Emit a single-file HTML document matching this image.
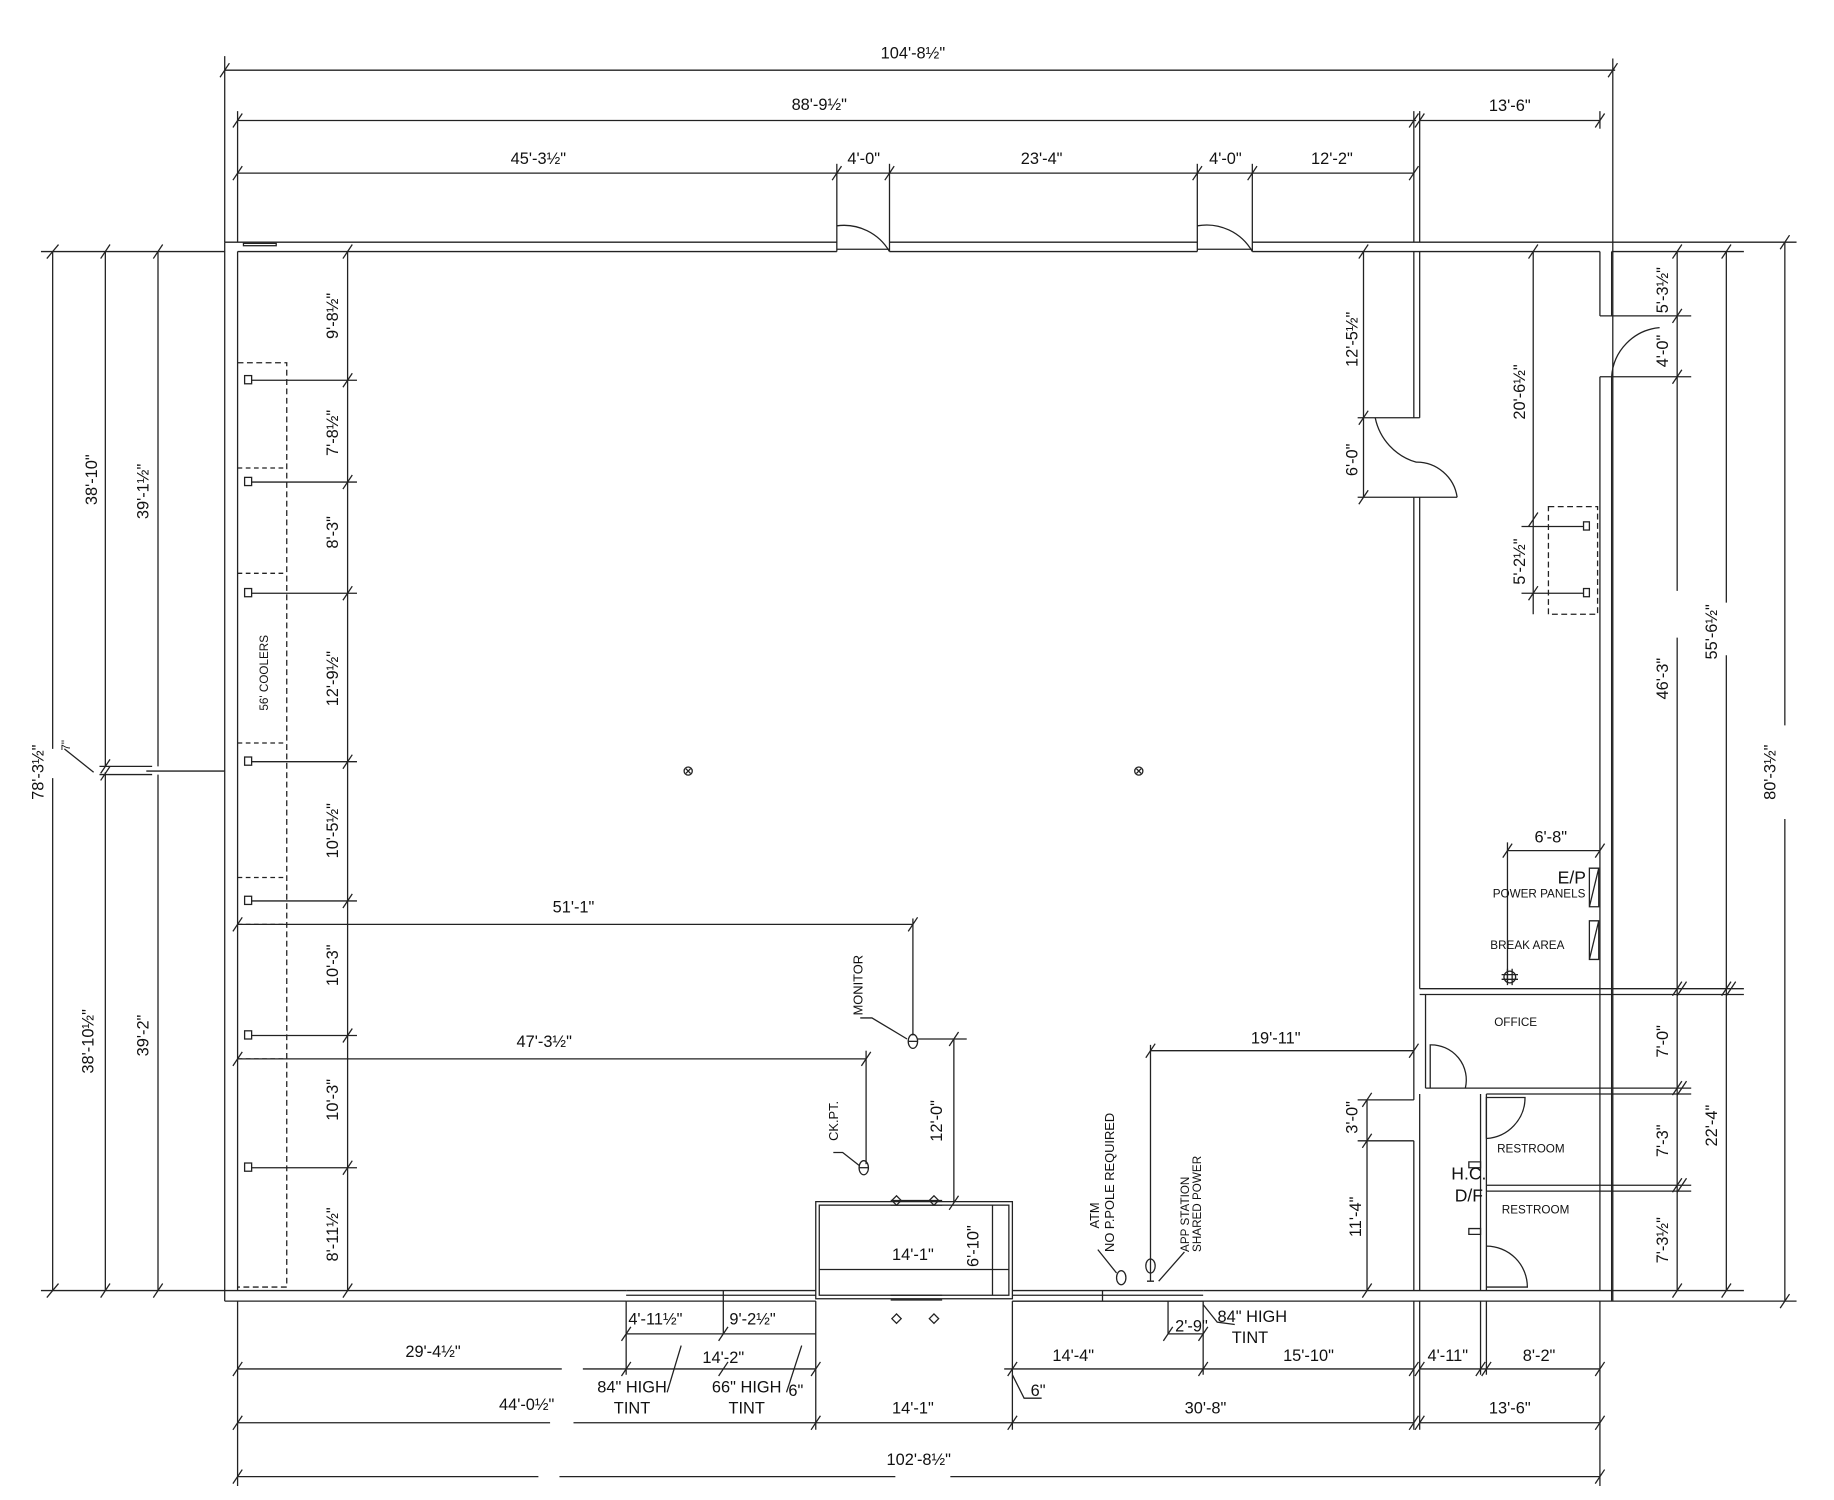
<!DOCTYPE html>
<html><head><meta charset="utf-8"><style>
html,body{margin:0;padding:0;background:#fff;width:1834px;height:1500px;overflow:hidden}
svg{display:block}
text{font-family:"Liberation Sans",sans-serif;fill:#111}
</style></head><body>
<svg width="1834" height="1500" viewBox="0 0 1567 1282" preserveAspectRatio="none" xmlns="http://www.w3.org/2000/svg">
<g stroke="#222" stroke-width="1.1" fill="none">
<line x1="192" y1="60" x2="1380" y2="60"/><line x1="192" y1="48" x2="192" y2="207"/><line x1="1378" y1="50" x2="1378" y2="1112"/>
<line x1="203" y1="103" x2="1210" y2="103"/><line x1="1213" y1="103" x2="1367" y2="103"/>
<line x1="203" y1="95" x2="203" y2="207"/><line x1="1367" y1="95" x2="1367" y2="110"/>
<line x1="1208" y1="95" x2="1208" y2="207"/><line x1="1213" y1="95" x2="1213" y2="207"/>
<line x1="203" y1="148" x2="1208" y2="148"/>
<line x1="715" y1="140" x2="715" y2="215"/><line x1="760" y1="140" x2="760" y2="215"/>
<line x1="1023" y1="140" x2="1023" y2="215"/><line x1="1070" y1="140" x2="1070" y2="215"/>
<path d="M188 66L196 54M1374 66L1382 54M199 109L207 97M1204 109L1212 97M1209 109L1217 97M1363 109L1371 97M199 154L207 142M711 154L719 142M756 154L764 142M1019 154L1027 142M1066 154L1074 142M1204 154L1212 142"/>
<line x1="192" y1="207" x2="715" y2="207"/><line x1="760" y1="207" x2="1023" y2="207"/><line x1="1070" y1="207" x2="1535" y2="207"/>
<line x1="203" y1="215" x2="715" y2="215"/><line x1="760" y1="215" x2="1023" y2="215"/><line x1="1070" y1="215" x2="1367" y2="215"/>
<line x1="35" y1="215" x2="192" y2="215"/><line x1="1377" y1="215" x2="1490" y2="215"/>
<line x1="192" y1="207" x2="192" y2="1112"/><line x1="203" y1="215" x2="203" y2="1103"/>
<line x1="192" y1="1112" x2="535" y2="1112"/><line x1="865" y1="1112" x2="1535" y2="1112"/>
<line x1="35" y1="1103" x2="535" y2="1103"/><line x1="1028" y1="1103" x2="1490" y2="1103"/>
<rect x="208" y="208" width="28" height="2"/>
<line x1="715" y1="213" x2="760" y2="213"/><line x1="1023" y1="213" x2="1070" y2="213"/>
<path d="M715 193A45 45 0 0 1 760 215M1023 193A45 45 0 0 1 1070 215"/>
<line x1="1208" y1="215" x2="1208" y2="357"/><line x1="1213" y1="215" x2="1213" y2="357"/>
<line x1="1208" y1="425" x2="1208" y2="940"/><line x1="1213" y1="425" x2="1213" y2="845"/>
<line x1="1208" y1="975" x2="1208" y2="1103"/><line x1="1213" y1="935" x2="1213" y2="1103"/>
<line x1="1160" y1="357" x2="1213" y2="357"/><line x1="1160" y1="425" x2="1245" y2="425"/>
<path d="M1175 357A50 50 0 0 0 1210 395A35 35 0 0 1 1245 425"/>
<line x1="1165" y1="215" x2="1165" y2="425"/>
<path d="M1161 221L1169 209M1161 363L1169 351M1161 431L1169 419"/>
<line x1="1367" y1="215" x2="1367" y2="270"/><line x1="1377" y1="215" x2="1377" y2="270"/>
<line x1="1367" y1="322" x2="1367" y2="1103"/><line x1="1377" y1="322" x2="1377" y2="1112"/>
<line x1="1367" y1="270" x2="1445" y2="270"/><line x1="1367" y1="322" x2="1445" y2="322"/>
<path d="M1377 322A45 45 0 0 1 1418 280"/>
<line x1="1433" y1="215" x2="1433" y2="505"/><line x1="1433" y1="545" x2="1433" y2="1103"/>
<line x1="1475" y1="215" x2="1475" y2="515"/><line x1="1475" y1="560" x2="1475" y2="1103"/>
<line x1="1525" y1="207" x2="1525" y2="620"/><line x1="1525" y1="700" x2="1525" y2="1112"/>
<line x1="1310" y1="215" x2="1310" y2="525"/>
<path d="M1429 221L1437 209M1429 276L1437 264M1429 328L1437 316M1471 221L1479 209M1521 213L1529 201M1306 221L1314 209M1306 450L1314 438M1306 513L1314 501M1521 1118L1529 1106M1471 1109L1479 1097M1429 1109L1437 1097"/>
<path d="M1429 851L1437 839M1433 851L1441 839M1471 851L1479 839M1475 851L1483 839M1429 936L1437 924M1433 936L1441 924M1429 1019L1437 1007M1433 1019L1441 1007"/>
<line x1="1367" y1="845" x2="1490" y2="845"/><line x1="1367" y1="850" x2="1490" y2="850"/>
<line x1="1367" y1="930" x2="1445" y2="930"/><line x1="1367" y1="935" x2="1445" y2="935"/>
<line x1="1367" y1="1013" x2="1445" y2="1013"/><line x1="1367" y1="1018" x2="1445" y2="1018"/>
<rect x="1323" y="433" width="42" height="92" stroke-dasharray="5,3"/>
<rect x="1353" y="446" width="5" height="7"/><rect x="1353" y="503" width="5" height="7"/>
<line x1="1300" y1="450" x2="1353" y2="450"/><line x1="1300" y1="507" x2="1353" y2="507"/>
<line x1="1288" y1="727" x2="1367" y2="727"/><line x1="1288" y1="720" x2="1288" y2="840"/>
<path d="M1284 733L1292 721M1363 733L1371 721"/>
<path d="M1358 742H1366V775H1358ZM1358 775L1366 742M1358 787H1366V820H1358ZM1358 820L1366 787"/>
<circle cx="1290" cy="835" r="5"/><path d="M1283 833H1297M1283 837H1297M1288 828V842M1292 828V842"/>
<line x1="1213" y1="845" x2="1367" y2="845"/><line x1="1213" y1="850" x2="1367" y2="850"/>
<line x1="1218" y1="930" x2="1367" y2="930"/><line x1="1270" y1="935" x2="1367" y2="935"/>
<line x1="1218" y1="850" x2="1218" y2="930"/>
<path d="M1222 930V893A30 30 0 0 1 1252 930"/>
<line x1="1265" y1="935" x2="1265" y2="1103"/><line x1="1270" y1="935" x2="1270" y2="1103"/>
<line x1="1270" y1="1013" x2="1367" y2="1013"/><line x1="1270" y1="1018" x2="1367" y2="1018"/>
<path d="M1270 973V938H1303A35 35 0 0 1 1270 973M1270 1065A35 35 0 0 1 1305 1100H1270"/>
<path d="M1255 993H1265V998H1255ZM1255 1050H1265V1055H1255Z"/>
<line x1="1160" y1="940" x2="1208" y2="940"/><line x1="1160" y1="975" x2="1208" y2="975"/>
<line x1="1168" y1="940" x2="1168" y2="1103"/>
<path d="M1164 946L1172 934M1164 981L1172 969M1164 1109L1172 1097M1204 904L1212 892"/>
<path d="M203 310H245V1100H203" stroke-dasharray="5,3"/>
<path d="M203 400H245M203 490H245M203 635H245M203 750H245M203 790H245M203 905H245" stroke-dasharray="4,3"/>
<g>
<rect x="209" y="321" width="6" height="7"/><rect x="209" y="408" width="6" height="7"/><rect x="209" y="503" width="6" height="7"/><rect x="209" y="647" width="6" height="7"/><rect x="209" y="766" width="6" height="7"/><rect x="209" y="881" width="6" height="7"/><rect x="209" y="994" width="6" height="7"/>
</g>
<path d="M215 325H305M215 412H305M215 507H305M215 651H305M215 770H305M215 885H305M215 998H305"/>
<line x1="297" y1="215" x2="297" y2="1103"/>
<path d="M293 221L301 209M293 331L301 319M293 418L301 406M293 513L301 501M293 657L301 645M293 776L301 764M293 891L301 879M293 1004L301 992M293 1109L301 1097"/>
<line x1="45" y1="215" x2="45" y2="640"/><line x1="45" y1="665" x2="45" y2="1103"/>
<line x1="90" y1="215" x2="90" y2="655"/><line x1="90" y1="660" x2="90" y2="1103"/>
<line x1="135" y1="215" x2="135" y2="655"/><line x1="135" y1="662" x2="135" y2="1103"/>
<line x1="125" y1="659" x2="192" y2="659"/><line x1="85" y1="655" x2="130" y2="655"/><line x1="85" y1="662" x2="130" y2="662"/>
<path d="M40 221L50 209M86 221L94 209M131 221L139 209M40 1109L50 1097M86 1109L94 1097M131 1109L139 1097M86 661L94 649M86 667L94 655M55 640L80 660"/>
<circle cx="588" cy="659" r="3.5"/><path d="M586 657L590 661M590 657L586 661"/>
<circle cx="973" cy="659" r="3.5"/><path d="M971 657L975 661M975 657L971 661"/>
<line x1="203" y1="790" x2="780" y2="790"/><line x1="780" y1="785" x2="780" y2="885"/>
<line x1="203" y1="905" x2="740" y2="905"/><line x1="740" y1="898" x2="740" y2="995"/>
<path d="M199 796L207 784M776 796L784 784M199 911L207 899M736 911L744 899"/>
<ellipse cx="780" cy="890" rx="4" ry="6"/><line x1="776" y1="890" x2="784" y2="890"/>
<ellipse cx="738" cy="998" rx="4" ry="6"/><line x1="734" y1="998" x2="742" y2="998"/>
<path d="M735 870L745 870L775 888M712 985L720 985L734 996"/>
<line x1="784" y1="888" x2="826" y2="888"/><line x1="815" y1="888" x2="815" y2="1028"/>
<path d="M811 894L819 882M811 1034L819 1022"/>
<rect x="697" y="1027" width="168" height="83"/><rect x="700" y="1030" width="162" height="77"/>
<line x1="700" y1="1085" x2="862" y2="1085"/>
<line x1="848" y1="1030" x2="848" y2="1107"/>
<path d="M761 1026H805M761 1030H805M761 1107H805M761 1111H805"/>
<path d="M762 1026L766 1022L770 1026L766 1030ZM794 1026L798 1022L802 1026L798 1030ZM762 1127L766 1123L770 1127L766 1131ZM794 1127L798 1123L802 1127L798 1131Z"/>
<path d="M535 1103H697M535 1107H697M535 1112H697M865 1103H1028M865 1107H1028M865 1112H1028"/>
<path d="M618 1103V1112M942 1103V1112"/>
<line x1="983" y1="898" x2="1208" y2="898"/><line x1="983" y1="893" x2="983" y2="1095"/>
<path d="M979 904L987 892"/>
<ellipse cx="958" cy="1092" rx="4" ry="6"/><ellipse cx="983" cy="1082" rx="4" ry="6"/>
<path d="M938 1068L954 1088M1012 1070L990 1095M980 1095L986 1095"/>
<path d="M203 1112V1270M697 1112V1222M865 1112V1222M1208 1112V1222M1213 1112V1222M1367 1112V1270M1265 1112V1175M1270 1112V1175M535 1112V1175M618 1112V1140M998 1112V1140M1028 1112V1175"/>
<path d="M535 1140H618M595 1140H697M998 1140H1028"/>
<path d="M203 1170H480M498 1170H697M858 1170H1208M1213 1170H1367"/>
<path d="M203 1216H470M490 1216H1208M1213 1216H1367"/>
<path d="M203 1262H460M478 1262H765M812 1262H1367"/>
<path d="M199 1176L207 1164M531 1176L539 1164M614 1176L622 1164M693 1176L701 1164M861 1176L869 1164M1024 1176L1032 1164M1204 1176L1212 1164M1209 1176L1217 1164M1261 1176L1269 1164M1266 1176L1274 1164M1363 1176L1371 1164M199 1222L207 1210M693 1222L701 1210M861 1222L869 1210M1204 1222L1212 1210M1209 1222L1217 1210M1363 1222L1371 1210M199 1268L207 1256M1363 1268L1371 1256M531 1146L539 1134M614 1146L622 1134M994 1146L1002 1134M1024 1146L1032 1134"/>
<path d="M570 1190L582 1150M672 1190L685 1150M1028 1115L1040 1130L1055 1132M865 1175L875 1195H890"/>
</g>
<g font-size="14">
<text x="780" y="50" text-anchor="middle">104'-8½"</text>
<text x="700" y="94" text-anchor="middle">88'-9½"</text>
<text x="1290" y="95" text-anchor="middle">13'-6"</text>
<text x="460" y="140" text-anchor="middle">45'-3½"</text>
<text x="738" y="140" text-anchor="middle">4'-0"</text>
<text x="890" y="140" text-anchor="middle">23'-4"</text>
<text x="1047" y="140" text-anchor="middle">4'-0"</text>
<text x="1138" y="140" text-anchor="middle">12'-2"</text>
<text x="490" y="780" text-anchor="middle">51'-1"</text>
<text x="465" y="895" text-anchor="middle">47'-3½"</text>
<text x="1090" y="892" text-anchor="middle">19'-11"</text>
<text x="780" y="1077" text-anchor="middle">14'-1"</text>
<text x="1325" y="720" text-anchor="middle">6'-8"</text>
<text x="1343" y="755" text-anchor="middle" font-size="15">E/P</text>
<text x="1315" y="767" text-anchor="middle" font-size="10">POWER PANELS</text>
<text x="1305" y="811" text-anchor="middle" font-size="10">BREAK AREA</text>
<text x="1295" y="877" text-anchor="middle" font-size="10">OFFICE</text>
<text x="1308" y="985" text-anchor="middle" font-size="10">RESTROOM</text>
<text x="1312" y="1037" text-anchor="middle" font-size="10">RESTROOM</text>
<text x="1255" y="1008" text-anchor="middle" font-size="15">H.C.</text>
<text x="1255" y="1027" text-anchor="middle" font-size="15">D/F</text>
<text x="560" y="1132" text-anchor="middle">4'-11½"</text>
<text x="643" y="1132" text-anchor="middle">9'-2½"</text>
<text x="1018" y="1138" text-anchor="middle">2'-9"</text>
<text x="1070" y="1130" text-anchor="middle">84" HIGH</text>
<text x="1068" y="1148" text-anchor="middle">TINT</text>
<text x="370" y="1160" text-anchor="middle">29'-4½"</text>
<text x="618" y="1165" text-anchor="middle">14'-2"</text>
<text x="917" y="1163" text-anchor="middle">14'-4"</text>
<text x="1118" y="1163" text-anchor="middle">15'-10"</text>
<text x="1237" y="1163" text-anchor="middle">4'-11"</text>
<text x="1315" y="1163" text-anchor="middle">8'-2"</text>
<text x="540" y="1190" text-anchor="middle">84" HIGH</text>
<text x="540" y="1208" text-anchor="middle">TINT</text>
<text x="638" y="1190" text-anchor="middle">66" HIGH</text>
<text x="638" y="1208" text-anchor="middle">TINT</text>
<text x="680" y="1193" text-anchor="middle">6"</text>
<text x="887" y="1193" text-anchor="middle">6"</text>
<text x="450" y="1205" text-anchor="middle">44'-0½"</text>
<text x="780" y="1208" text-anchor="middle">14'-1"</text>
<text x="1030" y="1208" text-anchor="middle">30'-8"</text>
<text x="1290" y="1208" text-anchor="middle">13'-6"</text>
<text x="785" y="1252" text-anchor="middle">102'-8½"</text>
</g>
<g font-size="14" text-anchor="middle">
<text transform="translate(289,270) rotate(-90)">9'-8½"</text>
<text transform="translate(289,370) rotate(-90)">7'-8½"</text>
<text transform="translate(289,455) rotate(-90)">8'-3"</text>
<text transform="translate(289,580) rotate(-90)">12'-9½"</text>
<text transform="translate(289,710) rotate(-90)">10'-5½"</text>
<text transform="translate(289,825) rotate(-90)">10'-3"</text>
<text transform="translate(289,940) rotate(-90)">10'-3"</text>
<text transform="translate(289,1055) rotate(-90)">8'-11½"</text>
<text transform="translate(229,575) rotate(-90)" font-size="10">56' COOLERS</text>
<text transform="translate(83,410) rotate(-90)">38'-10"</text>
<text transform="translate(127,420) rotate(-90)">39'-1½"</text>
<text transform="translate(37,660) rotate(-90)">78'-3½"</text>
<text transform="translate(60,637) rotate(-90)" font-size="10">7"</text>
<text transform="translate(80,890) rotate(-90)">38'-10½"</text>
<text transform="translate(127,885) rotate(-90)">39'-2"</text>
<text transform="translate(737,842) rotate(-90)" font-size="11">MONITOR</text>
<text transform="translate(716,958) rotate(-90)" font-size="11">CK.PT.</text>
<text transform="translate(805,958) rotate(-90)">12'-0"</text>
<text transform="translate(836,1065) rotate(-90)">6'-10"</text>
<text transform="translate(939,1050) rotate(-90)" font-size="11" text-anchor="start">ATM</text>
<text transform="translate(952,1070) rotate(-90)" font-size="11" text-anchor="start">NO P.POLE REQUIRED</text>
<text transform="translate(1016,1070) rotate(-90)" font-size="10" text-anchor="start">APP STATION</text>
<text transform="translate(1026,1070) rotate(-90)" font-size="10" text-anchor="start">SHARED POWER</text>
<text transform="translate(1160,290) rotate(-90)">12'-5½"</text>
<text transform="translate(1160,393) rotate(-90)">6'-0"</text>
<text transform="translate(1160,955) rotate(-90)">3'-0"</text>
<text transform="translate(1163,1040) rotate(-90)">11'-4"</text>
<text transform="translate(1303,335) rotate(-90)">20'-6½"</text>
<text transform="translate(1303,480) rotate(-90)">5'-2½"</text>
<text transform="translate(1425,248) rotate(-90)">5'-3½"</text>
<text transform="translate(1425,300) rotate(-90)">4'-0"</text>
<text transform="translate(1425,580) rotate(-90)">46'-3"</text>
<text transform="translate(1467,540) rotate(-90)">55'-6½"</text>
<text transform="translate(1517,660) rotate(-90)">80'-3½"</text>
<text transform="translate(1425,890) rotate(-90)">7'-0"</text>
<text transform="translate(1425,975) rotate(-90)">7'-3"</text>
<text transform="translate(1467,962) rotate(-90)">22'-4"</text>
<text transform="translate(1425,1060) rotate(-90)">7'-3½"</text>
</g>
</svg>
</body></html>
